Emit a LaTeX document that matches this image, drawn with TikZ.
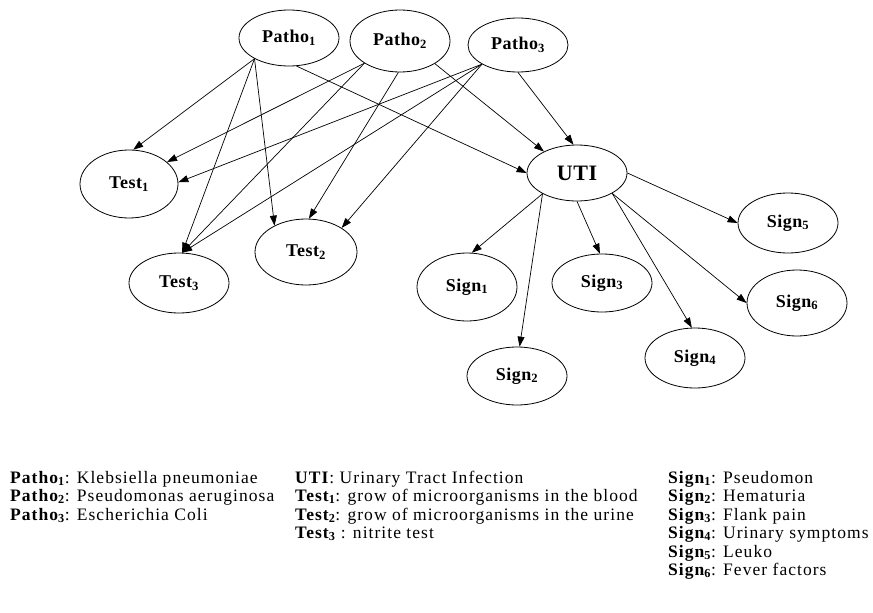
\documentclass[tikz,border=0pt]{standalone}
\usepackage{fontspec}
\setmainfont{Liberation Serif}
\newfontfamily\nodefont[LetterSpace=3]{Liberation Serif}
\newfontfamily\legfont[LetterSpace=6]{Liberation Serif}
\usetikzlibrary{shapes.geometric,arrows.meta}
\newcommand{\sbs}[1]{\textsubscript{#1}}
\begin{document}
\begin{tikzpicture}[x=1pt,y=-1pt,
  var/.style={ellipse, draw, line width=0.8pt, inner sep=0pt, minimum width=100pt,
    minimum height=#1, font=\nodefont\fontsize{18}{20}\selectfont\bfseries},
  var/.default=60pt,
  arr/.style={-{Triangle[length=10pt,width=7pt]}, line width=0.7pt},
  leg/.style={anchor=base west, inner sep=0pt, font=\legfont\fontsize{17.5}{20}\selectfont}]
\useasboundingbox[fill=white] (0,0) rectangle (873,613);
% nodes
\node[var=56pt] (p1) at (289,38) {Patho\sbs{1}};
\node[var=62pt] (p2) at (400,41) {Patho\sbs{2}};
\node[var=54pt] (p3) at (518,45) {Patho\sbs{3}};
\node[var=68pt, minimum width=98pt] (t1) at (129,184) {Test\sbs{1}};
\node[var=60pt] (t3) at (179,283) {Test\sbs{3}};
\node[var=66pt, minimum width=102pt] (t2) at (306,252) {Test\sbs{2}};
\node[var=56pt, font=\nodefont\fontsize{22}{24}\selectfont\bfseries] (uti) at (577,173) {UTI};
\node[var=68pt] (s1) at (467,287) {Sign\sbs{1}};
\node[var=58pt] (s2) at (517,376) {Sign\sbs{2}};
\node[var=58pt] (s3) at (602,283) {Sign\sbs{3}};
\node[var=60pt] (s4) at (695,358) {Sign\sbs{4}};
\node[var=60pt] (s5) at (788,223) {Sign\sbs{5}};
\node[var=66pt] (s6) at (797,303) {Sign\sbs{6}};
% edges from pathogens
\draw[arr] (p1.211) -- (t1.83);
\draw[arr] (p1.211) -- (t3.84);
\draw[arr] (p1.211) -- (t2.140);
\draw[arr] (p1.285) -- (uti.180);
\draw[arr] (p2.212) -- (t1.30);
\draw[arr] (p2.212) -- (t3.84);
\draw[arr] (p2.267) -- (t2.85);
\draw[arr] (p2.327) -- (uti.147);
\draw[arr] (p3.208) -- (t1.2);
\draw[arr] (p3.208) -- (t3.84);
\draw[arr] (p3.208) -- (t2.34);
\draw[arr] (p3.270) -- (uti.97);
% edges from UTI
\draw[arr] (uti.211) -- (s1.82);
\draw[arr] (uti.211) -- (s2.85);
\draw[arr] (uti.270) -- (s3.94);
\draw[arr] (uti.330) -- (s4.96);
\draw[arr] (uti.0) -- (s5.180);
\draw[arr] (uti.330) -- (s6.180);
% legend
\node[leg] (l1) at (10,483) {\textbf{Patho\sbs{1}}: Klebsiella pneumoniae};
\node[leg] (l2) at (10,501) {\textbf{Patho\sbs{2}}: Pseudomonas aeruginosa};
\node[leg] (l3) at (10,520) {\textbf{Patho\sbs{3}}: Escherichia Coli};
\node[leg] (l4) at (295,483) {\textbf{UTI}: Urinary Tract Infection};
\node[leg] (l5) at (295,501) {\textbf{Test\sbs{1}}: grow of microorganisms in the blood};
\node[leg] (l6) at (295,520) {\textbf{Test\sbs{2}}: grow of microorganisms in the urine};
\node[leg] (l7) at (295,538) {\textbf{Test\sbs{3}} : nitrite test};
\node[leg] (l8) at (668,483) {\textbf{Sign\sbs{1}}: Pseudomon};
\node[leg] (l9) at (668,501) {\textbf{Sign\sbs{2}}: Hematuria};
\node[leg] (l10) at (668,520) {\textbf{Sign\sbs{3}}: Flank pain};
\node[leg] (l11) at (668,538) {\textbf{Sign\sbs{4}}: Urinary symptoms};
\node[leg] (l12) at (668,557) {\textbf{Sign\sbs{5}}: Leuko};
\node[leg] (l13) at (668,575) {\textbf{Sign\sbs{6}}: Fever factors};
\end{tikzpicture}
\end{document}
